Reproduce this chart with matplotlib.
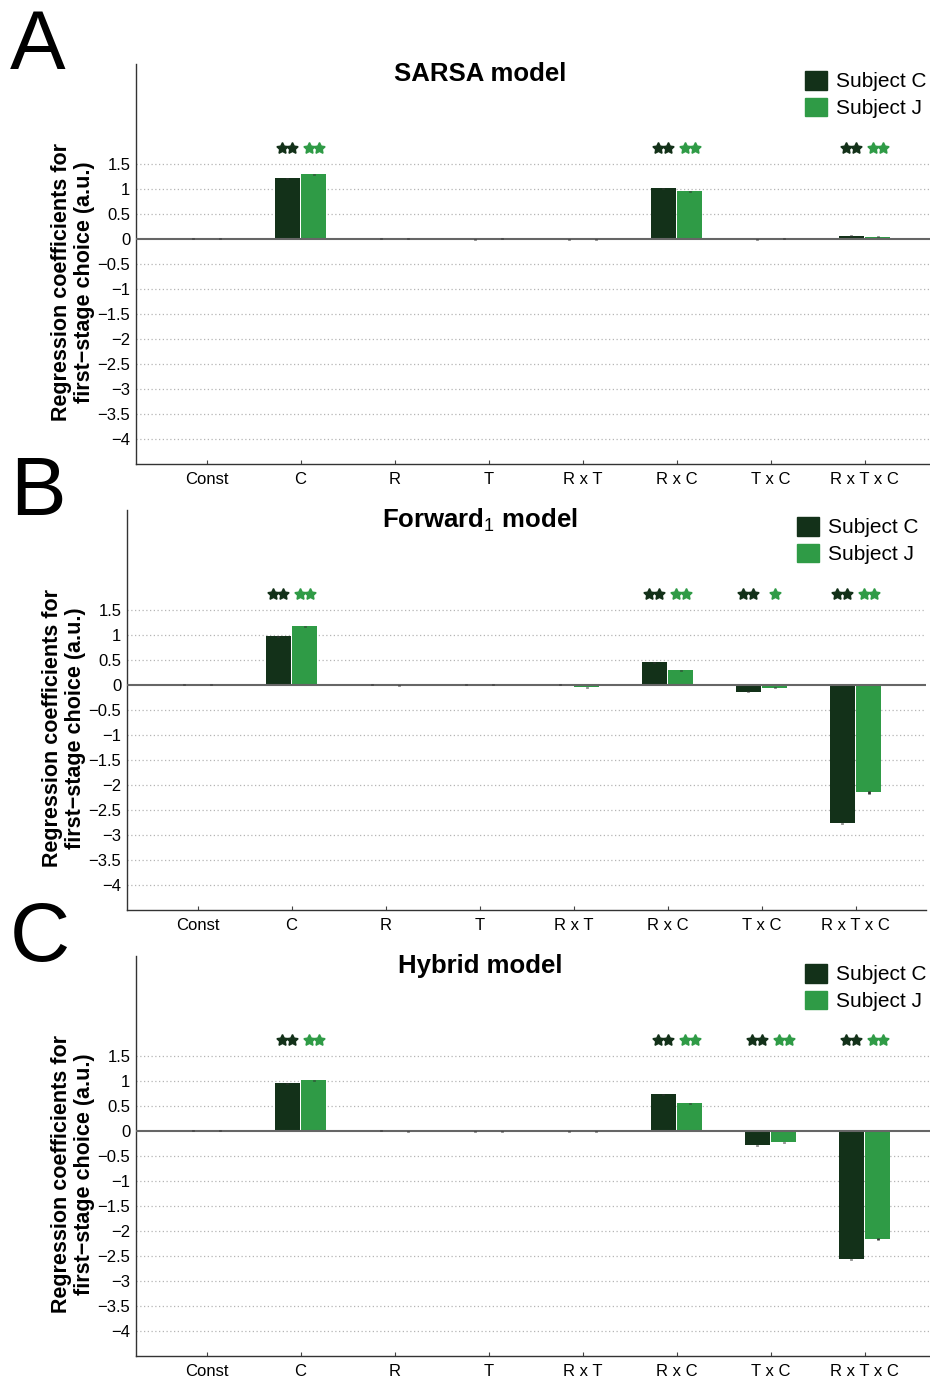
import numpy as np
import matplotlib.pyplot as plt
from matplotlib.patches import Patch

plt.rcParams['font.family'] = ['Liberation Sans', 'DejaVu Sans']
plt.rcParams['mathtext.fontset'] = 'custom'
plt.rcParams['mathtext.rm'] = 'Liberation Sans'

labels = ['Const', 'C', 'R', 'T', 'R x T', 'R x C', 'T x C', 'R x T x C']

# regression weights, one list per model and subject
sarsa_c = [0.01, 1.22, 0.01, 0.00, 0.00, 1.02, 0.00, 0.07]
sarsa_j = [0.01, 1.30, 0.01, 0.01, -0.01, 0.96, 0.01, 0.05]
forward_c = [0.01, 0.98, 0.01, 0.01, 0.01, 0.46, -0.13, -2.76]
forward_j = [0.01, 1.18, -0.01, 0.01, -0.04, 0.30, -0.05, -2.14]
hybrid_c = [0.01, 0.96, 0.01, -0.01, -0.01, 0.74, -0.28, -2.56]
hybrid_j = [0.01, 1.02, 0.00, 0.00, -0.01, 0.56, -0.22, -2.16]

# standard errors (all tiny)
sarsa_c_err = [0.01, 0.01, 0.01, 0.01, 0.01, 0.01, 0.01, 0.01]
sarsa_j_err = [0.01, 0.01, 0.01, 0.01, 0.01, 0.01, 0.01, 0.01]
forward_c_err = [0.01, 0.01, 0.01, 0.01, 0.01, 0.01, 0.01, 0.01]
forward_j_err = [0.01, 0.01, 0.01, 0.01, 0.01, 0.01, 0.01, 0.03]
hybrid_c_err = [0.01, 0.01, 0.01, 0.01, 0.01, 0.01, 0.01, 0.01]
hybrid_j_err = [0.01, 0.01, 0.01, 0.01, 0.01, 0.01, 0.01, 0.02]

# significance stars per regressor: (subject C, subject J)
sarsa_sig = {1: (2, 2), 5: (2, 2), 7: (2, 2)}
forward_sig = {1: (2, 2), 5: (2, 2), 6: (2, 1), 7: (2, 2)}
hybrid_sig = {1: (2, 2), 5: (2, 2), 6: (2, 2), 7: (2, 2)}

dark = '#133119'
light = '#2f9b46'

fig = plt.figure(figsize=(9.3, 13.8), dpi=100)
W, H = 930.0, 1380.0

panels = [
    ('A', 'SARSA model', sarsa_c, sarsa_j, sarsa_c_err, sarsa_j_err, sarsa_sig, 136, 64, 805, 71),
    ('B', r'Forward$_\mathrm{1}$ model', forward_c, forward_j, forward_c_err, forward_j_err, forward_sig, 127, 510, 797, 517),
    ('C', 'Hybrid model', hybrid_c, hybrid_j, hybrid_c_err, hybrid_j_err, hybrid_sig, 136, 956, 805, 964),
]

x = np.arange(1, len(labels) + 1)
off = 0.14
bw = 0.27

for letter, title, vc, vj, ec, ej, sig, left, top, legx, legy in panels:
    ax = fig.add_axes([left / W, 1 - (top + 400) / H, 799 / W, 400 / H])
    ax.set_xlim(0.25, 8.75)
    ax.set_ylim(-4.5, 3.5)

    for y in np.arange(-4, 2, 0.5):
        if y != 0:
            ax.axhline(y, color='#b5b5b5', lw=0.9, ls=(0, (1, 2)), zorder=0)
    ax.axhline(0, color='#666666', lw=1.5, zorder=3)

    ax.bar(x - off, vc, bw, color=dark, label='Subject C', zorder=2)
    ax.bar(x + off, vj, bw, color=light, label='Subject J', zorder=2)
    ax.errorbar(x - off, vc, yerr=ec, fmt='none', ecolor='#333333', elinewidth=2, capsize=0, zorder=4)
    ax.errorbar(x + off, vj, yerr=ej, fmt='none', ecolor='#333333', elinewidth=2, capsize=0, zorder=4)

    for i, (nc, nj) in sig.items():
        for xc, n, col in [(x[i] - off, nc, dark), (x[i] + off, nj, light)]:
            xs = xc + (np.arange(n) - (n - 1) / 2) * 0.105
            ax.plot(xs, [1.82] * n, ls='none', marker=(5, 1, 0), ms=8.5, color=col, zorder=5)

    ax.set_xticks(x)
    ax.set_xticklabels(labels, fontsize=12)
    ax.set_yticks(np.arange(-4, 2, 0.5))
    ax.set_yticklabels(['\u22124', '\u22123.5', '\u22123', '\u22122.5', '\u22122', '\u22121.5', '\u22121',
                        '\u22120.5', '0', '0.5', '1', '1.5'], fontsize=12)
    ax.tick_params(axis='x', direction='in', length=3, color='#444444', pad=6)
    ax.tick_params(axis='y', direction='in', length=0, pad=4)
    for s in ['top', 'right']:
        ax.spines[s].set_visible(False)
    for s in ['left', 'bottom']:
        ax.spines[s].set_color('#333333')
        ax.spines[s].set_linewidth(1.0)

    ax.text(-0.079, 0.455, 'Regression coefficients for\nfirst\u2212stage choice (a.u.)',
            transform=ax.transAxes, rotation=90, ha='center', va='center',
            fontsize=15.5, fontweight='bold', linespacing=1.15)

    fig.text(480 / W, 1 - (top + 10) / H, title, ha='center', va='center',
             fontsize=18.5, fontweight='bold')
    fig.text(10 / W, 1 - (top - 17) / H, letter, ha='left', va='center', fontsize=60)

    handles = [Patch(color=dark, label='Subject C'), Patch(color=light, label='Subject J')]
    fig.legend(handles=handles, loc='upper left', bbox_to_anchor=(legx / W, 1 - legy / H),
               frameon=False, fontsize=15, handlelength=1.05, handleheight=1.0,
               handletextpad=0.45, labelspacing=0.3, borderpad=0, borderaxespad=0)

fig.savefig('out.png', dpi=100)
